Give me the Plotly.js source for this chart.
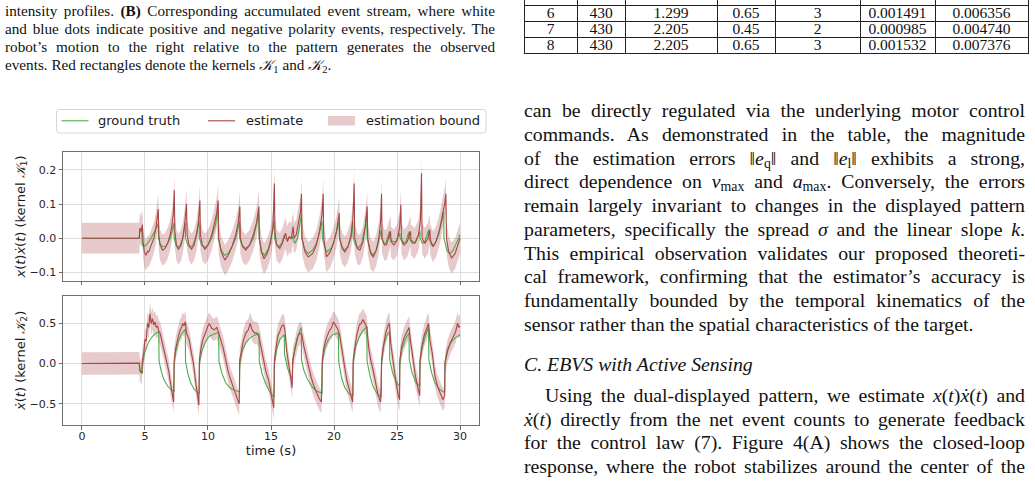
<!DOCTYPE html>
<html>
<head>
<meta charset="utf-8">
<script src="https://cdn.plot.ly/plotly-3.0.1.min.js"></script>
<style>
  html, body { margin: 0; padding: 0; background: #fff; }
  #page { position: relative; width: 1035px; height: 485px; overflow: hidden; background: #fff; }
  .txt { position: absolute; font-family: "Liberation Serif", "Times New Roman", serif; color: #111; white-space: nowrap; }
  .cap { font-size: 15.2px; line-height: 18px; left: 5px; width: 490px; }
  .body { font-size: 19.8px; line-height: 23.75px; left: 524px; width: 501px; }
  .just { text-align: justify; text-align-last: justify; white-space: normal; }
  sub { font-size: 0.7em; line-height: 0; vertical-align: -0.25em; }
  .hl { position: absolute; height: 1px; background: #222; }
  .vl { position: absolute; width: 1px; background: #222; }
  .cell { position: absolute; font-family: "Liberation Serif", serif; font-size: 15.5px; line-height: 16px; text-align: center; color: #111; }
  #plot { position: absolute; left: 0; top: 0; width: 1035px; height: 485px; }
</style>
</head>
<body>
<div id="page">
  <!-- caption text, left column -->
  <div class="txt cap just" style="top:1.5px">intensity profiles. <b>(B)</b> Corresponding accumulated event stream, where white</div>
  <div class="txt cap just" style="top:19.5px">and blue dots indicate positive and negative polarity events, respectively. The</div>
  <div class="txt cap just" style="top:37.5px">robot’s motion to the right relative to the pattern generates the observed</div>
  <div class="txt cap" style="top:55.5px">events. Red rectangles denote the kernels <i>𝒦</i><sub>1</sub> and <i>𝒦</i><sub>2</sub>.</div>

  <!-- results table, right column -->
  <div id="table"></div>

  <!-- body text, right column -->
  <div class="txt body just" style="top:98.9px">can be directly regulated via the underlying motor control</div>
  <div class="txt body just" style="top:122.7px">commands. As demonstrated in the table, the magnitude</div>
  <div class="txt body just" style="top:146.5px">of the estimation errors ‖<i>e</i><sub>q</sub>‖ and ‖<i>e</i><sub>l</sub>‖ exhibits a strong,</div>
  <div class="txt body just" style="top:170.2px">direct dependence on <i>v</i><sub>max</sub> and <i>a</i><sub>max</sub>. Conversely, the errors</div>
  <div class="txt body just" style="top:194.0px">remain largely invariant to changes in the displayed pattern</div>
  <div class="txt body just" style="top:217.8px">parameters, specifically the spread <i>σ</i> and the linear slope <i>k</i>.</div>
  <div class="txt body just" style="top:241.6px">This empirical observation validates our proposed theoreti-</div>
  <div class="txt body just" style="top:265.4px">cal framework, confirming that the estimator’s accuracy is</div>
  <div class="txt body just" style="top:289.1px">fundamentally bounded by the temporal kinematics of the</div>
  <div class="txt body" style="top:312.9px">sensor rather than the spatial characteristics of the target.</div>
  <div class="txt body" style="top:352.9px"><i>C. EBVS with Active Sensing</i></div>
  <div class="txt body just" style="top:383.9px; left:545px; width:480px">Using the dual-displayed pattern, we estimate <i>x</i>(<i>t</i>)<i>ẋ</i>(<i>t</i>) and</div>
  <div class="txt body just" style="top:407.6px"><i>ẋ</i>(<i>t</i>) directly from the net event counts to generate feedback</div>
  <div class="txt body just" style="top:431.4px">for the control law (7). Figure 4(A) shows the closed-loop</div>
  <div class="txt body just" style="top:455.2px">response, where the robot stabilizes around the center of the</div>

  <div id="plot"></div>
</div>
<script>
// ---- table rows (trial, samples, v_max, a_max, k, e_q, e_l) ----
const tableRows = [
  ["6", "430", "1.299", "0.65", "3", "0.001491", "0.006356"],
  ["7", "430", "2.205", "0.45", "2", "0.000985", "0.004740"],
  ["8", "430", "2.205", "0.65", "3", "0.001532", "0.007376"]
];

// ---- kernel K1: x(t)·ẋ(t), [time s, value] ----
const truthK1 = [[0,0],[4.55,0],[4.6,0.025],[4.75,0.02],[4.8,-0.02],[4.9,-0.025],[5.1,-0.02],[5.4,-0.005],[5.7,0.015],[5.9,0.03],[6.05,0.042],[6.07,0],[6.2,-0.015],[6.4,-0.025],[6.6,-0.025],[6.8,-0.015],[7.0,0],[7.15,0.02],[7.3,0.045],[7.32,0],[7.45,-0.02],[7.6,-0.027],[7.8,-0.02],[8.0,0],[8.12,0.025],[8.2,0.045],[8.22,0],[8.4,-0.02],[8.6,-0.028],[8.8,-0.02],[9.0,0],[9.2,0.03],[9.3,0.05],[9.32,0],[9.5,-0.02],[9.75,-0.027],[10.0,-0.02],[10.3,0],[10.6,0.04],[10.8,0.083],[10.82,0],[11.0,-0.03],[11.3,-0.05],[11.6,-0.045],[11.9,-0.025],[12.2,0],[12.4,0.03],[12.5,0.05],[12.52,0],[12.7,-0.02],[13.0,-0.03],[13.3,-0.02],[13.6,0],[13.85,0.04],[14.03,0.07],[14.05,0],[14.25,-0.04],[14.5,-0.05],[14.8,-0.03],[15.0,0],[15.15,0.03],[15.25,0.05],[15.27,0],[15.4,-0.015],[15.6,-0.025],[15.85,-0.015],[16.05,0.01],[16.07,0],[16.3,-0.003],[16.5,0.002],[16.7,0.005],[16.72,0],[16.9,-0.015],[17.1,0],[17.3,0.04],[17.42,0.07],[17.44,0],[17.65,-0.03],[17.95,-0.045],[18.3,-0.035],[18.6,-0.015],[18.8,0.01],[19.0,0.045],[19.05,0.05],[19.07,0],[19.25,-0.025],[19.45,-0.04],[19.75,-0.03],[20.0,-0.01],[20.2,0.02],[20.4,0.05],[20.42,0],[20.6,-0.02],[20.8,-0.035],[21.1,-0.025],[21.35,0],[21.5,0.05],[21.52,0],[21.7,-0.02],[21.9,-0.03],[22.2,-0.015],[22.45,0.03],[22.6,0.075],[22.62,0],[22.85,-0.035],[23.1,-0.05],[23.35,-0.035],[23.6,0],[23.75,0.025],[23.77,0],[23.95,-0.015],[24.1,-0.015],[24.3,0.005],[24.4,0.02],[24.42,0],[24.65,-0.01],[24.9,-0.01],[25.1,0.005],[25.22,0.015],[25.24,0],[25.45,-0.015],[25.7,-0.01],[25.95,0.02],[25.97,0],[26.2,-0.015],[26.5,-0.01],[26.7,0.01],[26.81,0.02],[26.83,0],[27.0,-0.015],[27.2,-0.01],[27.4,0.01],[27.52,0.025],[27.54,0],[27.75,-0.02],[28.0,-0.015],[28.3,0.01],[28.55,0.05],[28.7,0.078],[28.72,0],[28.95,-0.035],[29.2,-0.045],[29.45,-0.035],[29.7,-0.015],[30.0,0.01]];

const estimateK1 = [[0,0],[4.55,0],[4.6,0.03],[4.7,0.02],[4.8,0.04],[4.85,-0.01],[4.95,-0.04],[5.08,-0.05],[5.2,-0.038],[5.3,-0.04],[5.5,-0.02],[5.7,0],[5.85,0.025],[5.95,0.05],[6.06,0.085],[6.1,0.01],[6.2,-0.02],[6.4,-0.035],[6.6,-0.03],[6.8,-0.015],[7.0,0.01],[7.15,0.04],[7.25,0.07],[7.33,0.14],[7.37,0.02],[7.5,-0.02],[7.65,-0.032],[7.85,-0.022],[8.0,0],[8.15,0.04],[8.3,0.1],[8.34,0.01],[8.5,-0.02],[8.7,-0.032],[8.9,-0.02],[9.1,0.01],[9.25,0.05],[9.36,0.11],[9.4,0.01],[9.55,-0.02],[9.76,-0.032],[10.0,-0.02],[10.3,0.01],[10.55,0.05],[10.7,0.075],[10.81,0.11],[10.85,0],[11.05,-0.04],[11.2,-0.055],[11.34,-0.064],[11.6,-0.05],[11.9,-0.025],[12.2,0.01],[12.4,0.045],[12.53,0.093],[12.57,0],[12.75,-0.025],[13.0,-0.035],[13.3,-0.02],[13.6,0.01],[13.85,0.045],[14.04,0.093],[14.08,0],[14.25,-0.04],[14.44,-0.06],[14.7,-0.045],[14.95,-0.015],[15.15,0.03],[15.27,0.16],[15.31,0.02],[15.45,-0.02],[15.7,-0.03],[15.9,-0.015],[16.05,0],[16.15,0.015],[16.3,-0.01],[16.45,0.005],[16.6,-0.002],[16.76,0.034],[16.82,0],[17.0,0.01],[17.2,0.05],[17.35,0.08],[17.42,0.13],[17.46,0],[17.7,-0.04],[17.95,-0.055],[18.3,-0.045],[18.6,-0.02],[18.85,0.02],[19.05,0.07],[19.14,0.13],[19.18,0],[19.4,-0.055],[19.7,-0.04],[19.95,-0.015],[20.2,0.02],[20.41,0.074],[20.45,0],[20.65,-0.03],[20.86,-0.04],[21.1,-0.025],[21.35,0.01],[21.5,0.06],[21.6,0.16],[21.64,0],[21.85,-0.03],[22.05,-0.035],[22.3,-0.01],[22.5,0.04],[22.63,0.093],[22.67,0],[22.9,-0.045],[23.11,-0.055],[23.35,-0.035],[23.55,0],[23.7,0.05],[23.77,0.13],[23.81,0],[24.0,-0.02],[24.16,-0.02],[24.35,0.005],[24.48,0.02],[24.52,-0.01],[24.75,-0.02],[25.0,-0.005],[25.2,0.03],[25.3,0.098],[25.34,0],[25.55,-0.02],[25.8,-0.01],[26.07,0.02],[26.1,-0.005],[26.4,-0.015],[26.7,0.01],[26.85,0.05],[26.94,0.19],[26.98,0],[27.2,-0.015],[27.45,0],[27.6,0.025],[27.64,-0.005],[27.85,-0.025],[28.1,-0.01],[28.4,0.03],[28.6,0.07],[28.78,0.1],[28.87,0.13],[28.92,0],[29.1,-0.04],[29.32,-0.058],[29.6,-0.045],[29.8,-0.02],[30.0,0]];

// ---- kernel K2: ẋ(t), [time s, value] ----
const truthK2 = [[0,0],[4.55,0],[4.6,-0.1],[4.8,-0.12],[4.82,0],[5.0,0.15],[5.3,0.27],[5.6,0.34],[5.9,0.38],[6.1,0.40],[6.12,0.03],[6.3,-0.1],[6.5,-0.2],[6.8,-0.28],[7.1,-0.33],[7.3,-0.35],[7.32,0],[7.45,0.15],[7.65,0.28],[7.9,0.37],[8.2,0.43],[8.22,0.03],[8.4,-0.12],[8.6,-0.23],[8.9,-0.32],[9.3,-0.38],[9.32,0],[9.5,0.15],[9.8,0.27],[10.1,0.34],[10.5,0.37],[10.85,0.39],[10.87,0.03],[11.1,-0.12],[11.4,-0.24],[11.8,-0.31],[12.2,-0.34],[12.5,-0.35],[12.52,0],[12.7,0.15],[13.0,0.26],[13.4,0.33],[13.8,0.36],[14.05,0.37],[14.07,0.03],[14.3,-0.13],[14.6,-0.26],[14.9,-0.35],[15.25,-0.42],[15.27,0],[15.45,0.18],[15.7,0.30],[16.05,0.36],[16.07,0.12],[16.3,-0.05],[16.5,-0.14],[16.7,-0.2],[16.72,0],[16.9,0.2],[17.1,0.33],[17.4,0.45],[17.42,0.05],[17.6,-0.08],[17.9,-0.2],[18.3,-0.3],[18.7,-0.35],[19.05,-0.37],[19.07,0],[19.25,0.18],[19.55,0.30],[19.9,0.36],[20.35,0.38],[20.37,0.03],[20.6,-0.18],[20.85,-0.30],[21.15,-0.37],[21.5,-0.40],[21.52,0],[21.7,0.2],[22.0,0.33],[22.3,0.41],[22.6,0.46],[22.62,0.03],[22.85,-0.15],[23.1,-0.29],[23.4,-0.37],[23.75,-0.42],[23.77,0],[23.95,0.22],[24.15,0.34],[24.4,0.40],[24.42,0.05],[24.65,-0.12],[24.9,-0.22],[25.2,-0.28],[25.22,0],[25.4,0.18],[25.65,0.30],[25.95,0.38],[25.97,0.05],[26.2,-0.12],[26.5,-0.24],[26.8,-0.28],[26.82,0],[27.0,0.2],[27.25,0.35],[27.5,0.45],[27.52,0.05],[27.75,-0.12],[28.0,-0.24],[28.35,-0.32],[28.78,-0.36],[28.8,0.02],[29.0,0.18],[29.3,0.27],[29.6,0.32],[30.0,0.36]];

const estimateK2 = [[0,0],[4.55,0.005],[4.6,-0.08],[4.75,-0.12],[4.8,0.05],[4.9,0.12],[5.0,0.3],[5.1,0.28],[5.2,0.5],[5.3,0.45],[5.4,0.62],[5.5,0.5],[5.6,0.56],[5.7,0.48],[5.8,0.52],[5.9,0.45],[6.0,0.47],[6.1,0.40],[6.2,0.38],[6.4,0.25],[6.6,0.12],[6.8,0],[6.9,-0.1],[7.0,-0.22],[7.1,-0.3],[7.2,-0.38],[7.28,-0.48],[7.32,0.05],[7.45,0.2],[7.6,0.3],[7.75,0.4],[7.9,0.45],[8.0,0.5],[8.1,0.47],[8.2,0.52],[8.3,0.38],[8.5,0.3],[8.7,0.12],[8.85,0],[9.0,-0.2],[9.1,-0.3],[9.2,-0.45],[9.28,-0.52],[9.32,0.05],[9.45,0.2],[9.6,0.3],[9.8,0.4],[10.0,0.47],[10.1,0.5],[10.3,0.44],[10.5,0.42],[10.7,0.45],[10.85,0.38],[11.0,0.3],[11.2,0.2],[11.4,0.05],[11.6,-0.1],[11.8,-0.2],[12.0,-0.3],[12.2,-0.4],[12.35,-0.45],[12.48,-0.5],[12.52,0.05],[12.65,0.15],[12.8,0.28],[13.0,0.38],[13.2,0.42],[13.35,0.5],[13.5,0.42],[13.7,0.38],[13.9,0.38],[14.05,0.33],[14.2,0.2],[14.4,0.05],[14.6,-0.1],[14.8,-0.2],[15.0,-0.35],[15.1,-0.45],[15.22,-0.55],[15.27,0.05],[15.4,0.2],[15.55,0.35],[15.7,0.4],[15.85,0.47],[16.0,0.48],[16.1,0.42],[16.25,0.15],[16.4,0],[16.55,-0.2],[16.68,-0.3],[16.72,0.05],[16.85,0.15],[17.0,0.25],[17.15,0.35],[17.3,0.38],[17.45,0.36],[17.6,0.22],[17.8,0.08],[18.0,-0.05],[18.2,-0.18],[18.4,-0.28],[18.6,-0.36],[18.8,-0.43],[19.0,-0.48],[19.07,0.05],[19.2,0.2],[19.4,0.32],[19.6,0.4],[19.8,0.45],[19.95,0.52],[20.1,0.48],[20.3,0.43],[20.45,0.35],[20.6,0.22],[20.8,0],[21.0,-0.2],[21.2,-0.32],[21.35,-0.42],[21.48,-0.48],[21.52,0.05],[21.65,0.2],[21.8,0.35],[22.0,0.48],[22.15,0.5],[22.3,0.55],[22.45,0.5],[22.6,0.45],[22.75,0.2],[22.9,0.05],[23.1,-0.08],[23.3,-0.25],[23.5,-0.4],[23.7,-0.48],[23.77,0.05],[23.9,0.2],[24.1,0.38],[24.3,0.48],[24.4,0.5],[24.5,0.25],[24.7,0],[24.9,-0.22],[25.1,-0.4],[25.2,-0.45],[25.22,0.05],[25.35,0.2],[25.55,0.32],[25.75,0.38],[25.95,0.45],[26.05,0.3],[26.25,0.05],[26.45,-0.15],[26.65,-0.3],[26.8,-0.4],[26.82,0.05],[26.95,0.2],[27.15,0.35],[27.35,0.45],[27.5,0.5],[27.6,0.3],[27.8,0.12],[28.0,-0.15],[28.2,-0.28],[28.45,-0.38],[28.65,-0.45],[28.78,-0.4],[28.8,0],[29.0,0.15],[29.2,0.25],[29.45,0.33],[29.65,0.4],[29.8,0.5],[29.9,0.45],[30.0,0.47]];

// half-width of the estimation bound for each kernel
const boundK1 = 0.045;
const boundK2 = 0.14;

// legend labels
const legendLabels = ['ground truth', 'estimate', 'estimation bound'];

// ---- draw table ----
(function () {
  const tbl = document.getElementById('table');
  const colEdges = [524, 577, 625, 717, 775, 860, 935, 1028];
  const rowEdges = [4.7, 20.7, 36.7, 52.7];
  rowEdges.forEach(y => {
    const d = document.createElement('div');
    d.className = 'hl';
    d.style.cssText = `left:${colEdges[0]}px;top:${y}px;width:${colEdges[colEdges.length-1]-colEdges[0]+1}px`;
    tbl.appendChild(d);
  });
  colEdges.forEach(x => {
    const d = document.createElement('div');
    d.className = 'vl';
    d.style.cssText = `left:${x}px;top:0px;height:${rowEdges[rowEdges.length-1]+1}px`;
    tbl.appendChild(d);
  });
  tableRows.forEach((row, r) => {
    row.forEach((val, c) => {
      const d = document.createElement('div');
      d.className = 'cell';
      d.textContent = val;
      d.style.cssText = `left:${colEdges[c]}px;width:${colEdges[c+1]-colEdges[c]}px;top:${rowEdges[r]+0.5}px`;
      tbl.appendChild(d);
    });
  });
})();

// ---- chart ----
const GREEN = '#4aad4a';
const RED = '#a94646';
const BAND = 'rgba(176,80,84,0.30)';
const col = (arr, i) => arr.map(p => p[i]);

function kernelTraces(truth, est, bound, xa, ya) {
  const t = col(est, 0), v = col(est, 1);
  return [
    { x: t, y: v.map(y => y + bound), xaxis: xa, yaxis: ya, mode: 'lines',
      line: { width: 0, color: BAND }, hoverinfo: 'skip', showlegend: false },
    { x: t, y: v.map(y => y - bound), xaxis: xa, yaxis: ya, mode: 'lines', fill: 'tonexty',
      fillcolor: BAND, line: { width: 0, color: BAND }, name: legendLabels[2], showlegend: false },
    { x: col(truth, 0), y: col(truth, 1), xaxis: xa, yaxis: ya, mode: 'lines',
      line: { width: 1.1, color: GREEN }, name: legendLabels[0], showlegend: false },
    { x: t, y: v, xaxis: xa, yaxis: ya, mode: 'lines',
      line: { width: 1.1, color: RED }, name: legendLabels[1], showlegend: false }
  ];
}

const data = [
  ...kernelTraces(truthK1, estimateK1, boundK1, 'x', 'y'),
  ...kernelTraces(truthK2, estimateK2, boundK2, 'x2', 'y2')
];

// plot area spans x 63..479 px and y 152..425 px of the page
const M = { l: 63, r: 556, t: 152, b: 60 };
const PW = 1035 - M.l - M.r, PH = 485 - M.t - M.b;
const px = x => (x - M.l) / PW;
const py = y => (485 - M.b - y) / PH;

// legend frame with rounded corners, drawn above the top panel
function roundedBox(x0, y0, x1, y1, r) {
  const rx = r / PW, ry = r / PH;
  const X0 = px(x0), X1 = px(x1), Y0 = py(y1), Y1 = py(y0);
  return `M ${X0 + rx} ${Y0} L ${X1 - rx} ${Y0} Q ${X1} ${Y0} ${X1} ${Y0 + ry} L ${X1} ${Y1 - ry} ` +
         `Q ${X1} ${Y1} ${X1 - rx} ${Y1} L ${X0 + rx} ${Y1} Q ${X0} ${Y1} ${X0} ${Y1 - ry} ` +
         `L ${X0} ${Y0 + ry} Q ${X0} ${Y0} ${X0 + rx} ${Y0} Z`;
}
const legY = 120.8;
const shapes = [
  { type: 'path', xref: 'paper', yref: 'paper', path: roundedBox(56.5, 109.5, 486, 133, 3),
    fillcolor: 'rgba(255,255,255,0.8)', line: { color: '#d4d4d4', width: 1 } },
  { type: 'line', xref: 'paper', yref: 'paper', x0: px(61.5), x1: px(88.5), y0: py(legY), y1: py(legY),
    line: { color: GREEN, width: 1.1 } },
  { type: 'line', xref: 'paper', yref: 'paper', x0: px(208), x1: px(235), y0: py(legY), y1: py(legY),
    line: { color: RED, width: 1.1 } },
  { type: 'rect', xref: 'paper', yref: 'paper', x0: px(328), x1: px(355), y0: py(125.5), y1: py(116),
    fillcolor: BAND, line: { width: 0 } }
];
const legFont = { family: 'DejaVu Sans', size: 13, color: '#1a1a1a' };
const annotations = [[97, 0], [244.5, 1], [365, 2]].map(([x, i]) => ({
  xref: 'paper', yref: 'paper', x: px(x), y: py(legY), xanchor: 'left', yanchor: 'middle',
  text: legendLabels[i], showarrow: false, font: legFont, borderpad: 0
}));

const axisStyle = {
  showline: true, mirror: true, linecolor: '#707070', linewidth: 1,
  showgrid: true, gridcolor: '#d6d6d6', gridwidth: 0.8, zeroline: false,
  ticks: 'outside', ticklen: 3.5, tickwidth: 0.8, tickcolor: '#444',
  tickfont: { family: 'DejaVu Sans', size: 11, color: '#262626' }
};
const titleFont = { family: 'DejaVu Sans', size: 13, color: '#1a1a1a' };

const layout = {
  width: 1035, height: 485,
  margin: { l: M.l, r: M.r, t: M.t, b: M.b, pad: 0 },
  paper_bgcolor: 'rgba(0,0,0,0)', plot_bgcolor: 'rgba(0,0,0,0)',
  font: { family: 'DejaVu Sans', size: 11, color: '#262626' },
  showlegend: false,
  shapes: shapes,
  annotations: annotations,
  xaxis: Object.assign({}, axisStyle, {
    domain: [0, 1], anchor: 'y', range: [-1.5, 31.5], tick0: 0, dtick: 5,
    showticklabels: false
  }),
  yaxis: Object.assign({}, axisStyle, {
    domain: [0.5275, 1], anchor: 'x', range: [-0.125, 0.252], tick0: 0, dtick: 0.1,
    tickformat: '.1f',
    title: { text: '<i>x</i>(<i>t</i>)<i>ẋ</i>(<i>t</i>) (kernel <i>𝒦</i><sub>1</sub>)', font: titleFont, standoff: 1 }
  }),
  xaxis2: Object.assign({}, axisStyle, {
    domain: [0, 1], anchor: 'y2', range: [-1.5, 31.5], tick0: 0, dtick: 5,
    ticklabelstandoff: -3,
    title: { text: 'time (s)', font: titleFont, standoff: 1 }
  }),
  yaxis2: Object.assign({}, axisStyle, {
    domain: [0, 0.4736], anchor: 'x2', range: [-0.766, 0.846], tick0: 0, dtick: 0.5,
    tickformat: '.1f',
    title: { text: '<i>ẋ</i>(<i>t</i>) (kernel <i>𝒦</i><sub>2</sub>)', font: titleFont, standoff: 1 }
  })
};

Plotly.newPlot('plot', data, layout, { staticPlot: true, displayModeBar: false, responsive: false });
</script>
</body>
</html>
